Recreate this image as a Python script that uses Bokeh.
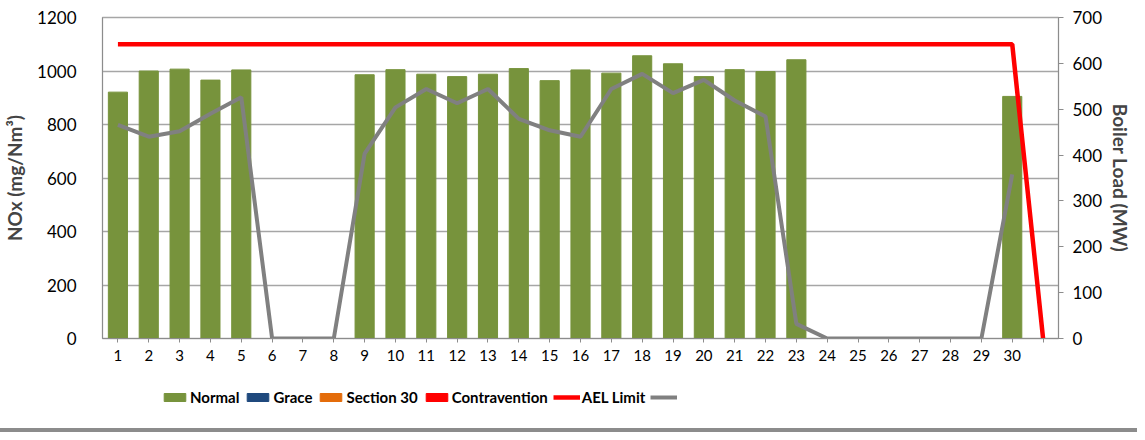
from bokeh.plotting import figure
from bokeh.models import (Range1d, LinearAxis, FixedTicker, Legend, LegendItem, Div)
from bokeh.layouts import column
from bokeh.embed import file_html
from bokeh.resources import INLINE

NAN = float("nan")

# ---- data ----
days = list(range(1, 31))
nox = [921, 1000, 1007, 966, 1004, None, None, None, 986, 1005,
       988, 979, 988, 1009, 964, 1004, 992, 1057, 1027, 979,
       1005, 998, 1042, None, None, None, None, None, None, 905]
boiler_load = [466, 440, 452, 490, 526, 0, 0, 0, 403, 504,
               544, 513, 544, 479, 454, 440, 544, 577, 535, 564,
               519, 484, 32, 0, 0, 0, 0, 0, 0, 358]
ael_days = list(range(1, 32))
ael_limit = [1100, 1100, 1100, 1100, 1100, 1100, 1100, 1100, 1100, 1100,
             1100, 1100, 1100, 1100, 1100, 1100, 1100, 1100, 1100, 1100,
             1100, 1100, 1100, 1100, 1100, 1100, 1100, 1100, 1100, 1100, 0]
x_tick_labels = [str(d) for d in days] + [""]
left_ticks = [0, 200, 400, 600, 800, 1000, 1200]
right_ticks = [0, 100, 200, 300, 400, 500, 600, 700]
legend_labels = ["Normal", "Grace", "Section 30", "Contravention", "AEL Limit", " "]

GREEN = "#77933C"
BLUE = "#1F497D"
ORANGE = "#E46C0A"
RED = "#FF0000"
GRAY = "#808080"
AXIS = "#8C8C8C"
GRID = "#A6A6A6"
FONT = "Lato"

bar_x = [d for d, v in zip(days, nox) if v is not None]
bar_top = [v for v in nox if v is not None]

p = figure(width=1137, height=370, output_backend="svg", toolbar_location=None,
           x_range=Range1d(0.5, 31.5), y_range=Range1d(0, 1200),
           min_border_left=100, min_border_right=79, min_border_top=17,
           min_border_bottom=32)
p.extra_y_ranges = {"load": Range1d(0, 700)}
p.outline_line_color = GRID
p.outline_line_width = 1.3
p.background_fill_color = "white"
p.border_fill_color = "white"

p.vbar(x=bar_x, top=bar_top, width=0.62, color=GREEN)
p.line(ael_days, ael_limit, line_color=RED, line_width=4.5)
p.line(days, boiler_load, line_color=GRAY, line_width=4, y_range_name="load")

# axes
xa = p.xaxis[0]
xa.ticker = FixedTicker(ticks=ael_days)
xa.major_label_overrides = {d: lab for d, lab in zip(ael_days, x_tick_labels)}
xa.axis_line_color = AXIS
xa.major_tick_line_color = AXIS
xa.major_tick_out = 4
xa.major_tick_in = 0
xa.minor_tick_line_color = None
xa.major_label_text_font = FONT
xa.major_label_text_font_size = "15px"
xa.major_label_text_color = "#000000"
xa.major_label_standoff = 7

ya = p.yaxis[0]
ya.ticker = FixedTicker(ticks=left_ticks)
ya.axis_line_color = AXIS
ya.major_tick_line_color = None
ya.minor_tick_line_color = None
ya.major_label_text_font = FONT
ya.major_label_text_font_size = "17px"
ya.major_label_text_color = "#000000"
ya.major_label_standoff = 20
ya.axis_label = "NOx (mg/Nm³)"
ya.axis_label_text_font = FONT
ya.axis_label_text_font_style = "bold"
ya.axis_label_text_font_size = "19px"
ya.axis_label_standoff = 8

ra = LinearAxis(y_range_name="load", ticker=FixedTicker(ticks=right_ticks))
ra.axis_line_color = AXIS
ra.major_tick_line_color = AXIS
ra.major_tick_out = 5
ra.major_tick_in = 0
ra.minor_tick_line_color = None
ra.major_label_text_font = FONT
ra.major_label_text_font_size = "17px"
ra.major_label_text_color = "#000000"
ra.major_label_standoff = 9
ra.axis_label = "Boiler Load (MW)"
ra.axis_label_text_font = FONT
ra.axis_label_text_font_style = "bold"
ra.axis_label_text_font_size = "19px"
ra.axis_label_standoff = 4
p.add_layout(ra, "right")

p.xgrid.grid_line_color = None
p.ygrid.ticker = FixedTicker(ticks=left_ticks)
p.ygrid.grid_line_color = GRID
p.ygrid.grid_line_width = 1.3

# ---- legend strip (separate figure with style-only placeholder glyphs) ----
lf = figure(width=1137, height=58, output_backend="svg", toolbar_location=None,
            x_range=Range1d(0, 1), y_range=Range1d(0, 1),
            x_axis_type=None, y_axis_type=None,
            min_border_left=0, min_border_right=0, min_border_top=0,
            min_border_bottom=0)
lf.outline_line_color = None
lf.grid.grid_line_color = None
lf.border_fill_color = "white"
l_normal = lf.vbar(x=[NAN], top=[NAN], width=0.62, color=GREEN)
l_grace = lf.vbar(x=[NAN], top=[NAN], width=0.62, color=BLUE)
l_s30 = lf.vbar(x=[NAN], top=[NAN], width=0.62, color=ORANGE)
l_contra = lf.vbar(x=[NAN], top=[NAN], width=0.62, color=RED)
l_ael = lf.line(x=[NAN], y=[NAN], line_color=RED, line_width=4.5)
l_load = lf.line(x=[NAN], y=[NAN], line_color=GRAY, line_width=4)

legend = Legend(items=[
    LegendItem(label=lab, renderers=[r])
    for lab, r in zip(legend_labels,
                      [l_normal, l_grace, l_s30, l_contra, l_ael, l_load])
], orientation="horizontal", location=(59, 22))
legend.glyph_width = 27
legend.glyph_height = 10
legend.label_standoff = 2
legend.spacing = 5
legend.padding = 0
legend.margin = 0
legend.border_line_color = None
legend.background_fill_alpha = 0
legend.label_text_font = FONT
legend.label_text_font_style = "bold"
legend.label_text_font_size = "15px"
legend.label_text_color = "#000000"
lf.add_layout(legend, "center")

sep = Div(width=1137, height=4, margin=0,
          styles={"background-color": "#8C8C8C"})

layout = column(p, lf, sep, spacing=0)
open("out.html", "w").write(file_html(layout, INLINE))
